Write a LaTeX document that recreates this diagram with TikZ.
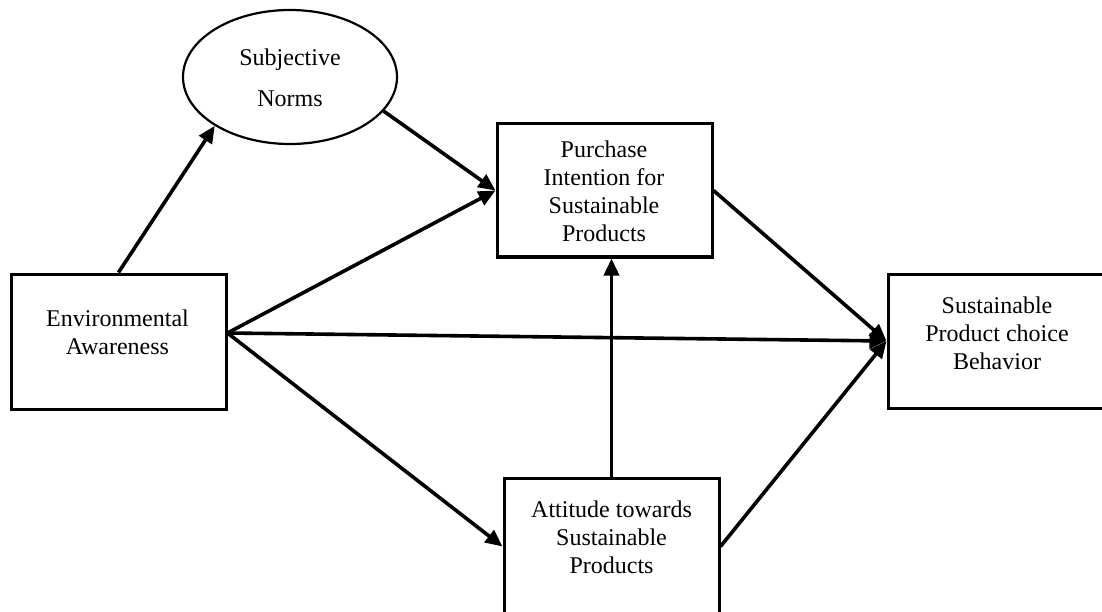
\documentclass[tikz,border=0pt]{standalone}
\usepackage{fontspec}
\setmainfont{Liberation Serif}
\usetikzlibrary{arrows.meta,shapes.geometric}
\begin{document}
\begin{tikzpicture}[x=1pt,y=-1pt,
  box/.style={draw, line width=3pt, rectangle, inner sep=0pt},
  oval/.style={draw, line width=2.2pt, ellipse, inner sep=0pt,
    minimum width=214pt, minimum height=134pt},
  boxtext/.style={align=center, font=\fontsize{24}{28}\selectfont, inner sep=0pt},
  link/.style={line width=3.6pt, -{Triangle[length=17pt,width=15pt]}}
]
\useasboundingbox (0,0) rectangle (1102,612);

% constructs
\node[oval] (sn) at (290,77) {};
\node[box, minimum width=215pt, minimum height=133pt] (pur) at (604.5,190.5) {};
\node[box, minimum width=215pt, minimum height=135pt] (env) at (118.5,341.5) {};
\node[box, minimum width=216pt, minimum height=134pt] (beh) at (996,341) {};
\node[box, minimum width=215pt, minimum height=137pt] (att) at (611.5,546.5) {};

% construct labels
\node[boxtext, font=\fontsize{24}{41}\selectfont] (sntext) at (290,77.5) {Subjective\\Norms};
\node[boxtext] (purtext) at (604,191) {Purchase\\Intention for\\Sustainable\\Products};
\node[boxtext] (envtext) at (117.5,332) {Environmental\\Awareness};
\node[boxtext] (behtext) at (997,333) {Sustainable\\Product choice\\Behavior};
\node[boxtext] (atttext) at (611.5,537) {Attitude towards\\Sustainable\\Products};

% paths
\draw[link] (env.north) -- (sn.213);
\draw[link] (sn.-20) -- (pur.west);
\draw[link] ([yshift=8.5pt]env.east) -- (pur.west);
\draw[link] ([yshift=8.5pt]env.east) -- (beh.west);
\draw[link] ([yshift=8.5pt]env.east) -- (att.west);
\draw[link] (att.north) -- (att.north |- pur.south);
\draw[link] (pur.east) -- (beh.west);
\draw[link] (att.east) -- (beh.west);
\end{tikzpicture}
\end{document}
